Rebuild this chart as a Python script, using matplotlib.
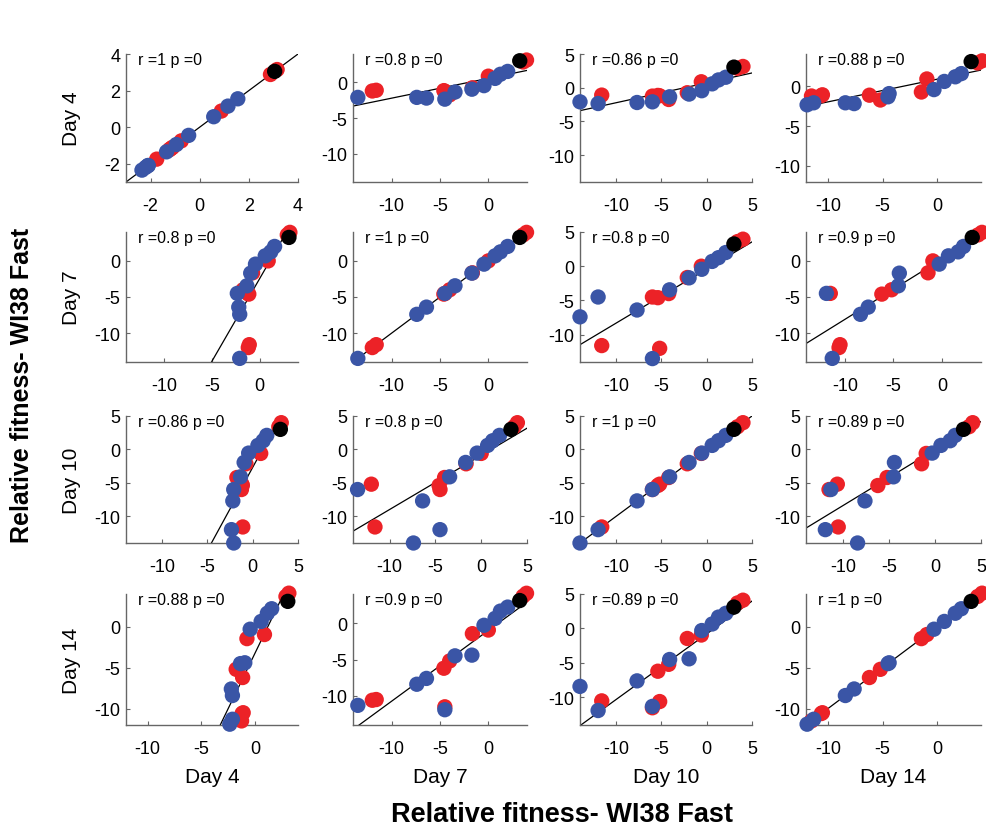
import numpy as np
import matplotlib
matplotlib.use("Agg")
import matplotlib.pyplot as plt
from matplotlib.ticker import MultipleLocator

plt.rcParams['font.family'] = ['Liberation Sans', 'DejaVu Sans']
plt.rcParams['axes.unicode_minus'] = False

# ---------------- data ----------------
days = ["Day 4", "Day 7", "Day 10", "Day 14"]
colors = ["blue", "red", "red", "blue", "blue", "red", "red", "blue", "red", "blue",
          "blue", "red", "blue", "red", "blue", "blue", "blue", "black", "red", "red"]
day4 = [-2.1, -1.2, -1.1, -2.1, -2.2, -1.15, -1.25, -2.35, -1.75, -1.35,
        -0.95, -0.75, -0.45, 0.88, 0.57, 1.15, 1.55, 3.05, 2.88, 3.15]
day7 = [-13.5, -12.0, -11.6, -7.4, -6.4, -4.6, -4.5, -4.5, -4.0, -3.45,
        -1.7, -1.65, -0.45, 0.0, 0.7, 1.25, 2.0, 3.25, 3.6, 3.95]
day10 = [-6.0, -5.2, -11.6, -14.0, -7.7, -5.4, -6.0, -12.0, -4.2, -4.1,
         -1.95, -2.15, -0.55, -0.6, 0.6, 1.3, 2.1, 3.0, 3.4, 4.0]
day14 = [-11.3, -10.6, -10.5, -8.4, -7.6, -6.2, -11.5, -11.9, -5.2, -4.5,
         -4.4, -1.45, -0.3, -0.95, 0.65, 1.65, 2.2, 3.1, 3.7, 4.1]
day_limits = [(-3, 4), (-14, 4), (-14, 5), (-12, 4)]
r_text = [["1", "0.8", "0.86", "0.88"],
          ["0.8", "1", "0.8", "0.9"],
          ["0.86", "0.8", "1", "0.89"],
          ["0.88", "0.9", "0.89", "1"]]

values = [np.array(day4), np.array(day7), np.array(day10), np.array(day14)]
cmap = {"red": "#EC2227", "blue": "#3A55A6", "black": "#000000"}
cols = np.array(colors)

# ---------------- layout ----------------
W, H = 987, 837
fig = plt.figure(figsize=(W / 100, H / 100), dpi=100)
lefts = [126, 353, 580, 806]
widths = [172, 174, 172, 175]
tops = [55, 233, 417, 595]
heights = [128, 130, 127, 131]
spine_c = "#666666"

for i in range(4):       # row -> y = day i
    for j in range(4):   # col -> x = day j
        ax = fig.add_axes([lefts[j] / W, 1 - (tops[i] + heights[i]) / H,
                           widths[j] / W, heights[i] / H])
        x = values[j]
        y = values[i]
        if i == j:
            lo, hi = day_limits[i]
        else:
            lo = min(day_limits[i][0], day_limits[j][0])
            hi = max(day_limits[i][1], day_limits[j][1])
        ax.set_xlim(lo, hi)
        ax.set_ylim(lo, hi)
        # regression line
        k, b = np.polyfit(x, y, 1)
        xx = np.array([lo, hi])
        ax.plot(xx, k * xx + b, color="black", lw=0.9, zorder=2)
        for c in ["red", "blue", "black"]:
            m = cols == c
            ax.scatter(x[m], y[m], s=122, color=cmap[c], edgecolors="none",
                       zorder=3 if c != "black" else 4, clip_on=False)
        step = 2 if (hi - lo) < 10 else 5
        ax.xaxis.set_major_locator(MultipleLocator(step))
        ax.yaxis.set_major_locator(MultipleLocator(step))
        for s in ["top", "right"]:
            ax.spines[s].set_visible(False)
        for s in ["left", "bottom"]:
            ax.spines[s].set_color(spine_c)
            ax.spines[s].set_linewidth(1.0)
        ax.tick_params(axis="both", direction="in", length=3, width=0.8,
                       color=spine_c, labelsize=13, labelcolor="black")
        ax.tick_params(axis="x", pad=11)
        ax.tick_params(axis="y", pad=4)
        ax.text(0.07, 0.955, "r =" + r_text[i][j] + " p =0", transform=ax.transAxes,
                fontsize=11.5, ha="left", va="center", zorder=5)

# day labels
for i in range(4):
    cy = tops[i] + heights[i] / 2
    fig.text(72 / W, 1 - cy / H, days[i], rotation=90, fontsize=15,
             ha="center", va="center")
for j in range(4):
    cx = lefts[j] + widths[j] / 2
    fig.text(cx / W, 1 - 778 / H, days[j], fontsize=15, ha="center", va="center")

fig.text(562 / W, 1 - 815 / H, "Relative fitness- WI38 Fast", fontsize=19.5,
         fontweight="bold", ha="center", va="center")
fig.text(22 / W, 1 - 385 / H, "Relative fitness- WI38 Fast", fontsize=18,
         fontweight="bold", rotation=90, ha="center", va="center")

fig.savefig("out.png", dpi=100)
